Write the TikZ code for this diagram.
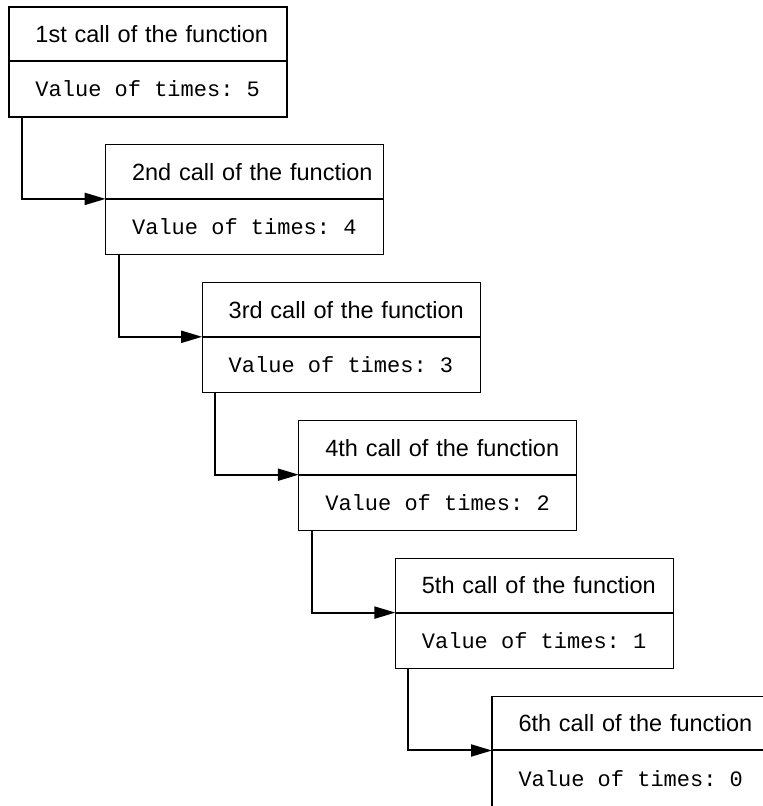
\documentclass[tikz,border=0pt]{standalone}
\usepackage{fontspec}
\newfontfamily\headfont{Liberation Sans}
\newfontfamily\codefont{Liberation Mono}
\newcommand\codespacing{\spaceskip=0.6em\relax}
\usetikzlibrary{arrows.meta, positioning}

\tikzset{
  callhead/.style={draw, line width=1.2pt, anchor=north west, outer sep=0pt,
    inner xsep=0pt, inner ysep=0pt, text width=278pt, minimum height=54pt,
    align=left, font=\headfont\fontsize{23.5}{26}\selectfont,
    execute at begin node={\frenchspacing\hspace*{26.5pt}}},
  callvalue/.style={callhead, minimum height=56pt,
    font=\codefont\fontsize{22}{26}\selectfont,
    execute at begin node=\codespacing},
  calllink/.style={-{Triangle[length=21pt, width=12pt]}, line width=2pt},
}

\begin{document}
\begin{tikzpicture}[x=1pt, y=1pt]
  \useasboundingbox (0,0) rectangle (763,806);
  \clip (0,0) rectangle (763,806);

  % one box per call, header above value
  \foreach \i/\ord/\val in {1/1st/5, 2/2nd/4, 3/3rd/3, 4/4th/2, 5/5th/1, 6/6th/0} {
    \node[callhead] (head\i) at ({9+96.6*(\i-1)}, {799-137.9*(\i-1)}) {\ord{} call of the function};
    \node[callvalue, below=0pt of head\i] (value\i) {Value of times: \val};
    \draw[line width=2pt] (head\i.south west) -- (head\i.south east);
  }

  % recursive calls
  \foreach \i [evaluate=\i as \j using int(\i+1)] in {1,...,5}
    \draw[calllink] ([xshift=13pt]value\i.south west) |- (head\j.south west);
\end{tikzpicture}
\end{document}
